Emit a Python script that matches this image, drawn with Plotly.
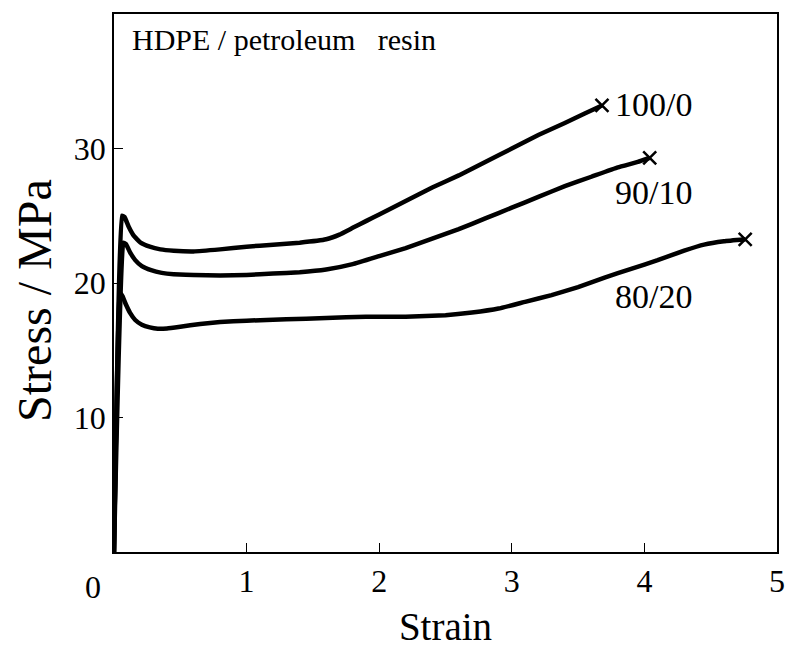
import plotly.graph_objects as go

# ---- data ----
x_100_0 = [0, 0.06, 0.08, 0.11, 0.15, 0.2, 0.27, 0.35, 0.45, 0.6, 0.8, 1.0, 1.2, 1.4, 1.6, 1.7, 1.8, 1.9,
           2.0, 2.2, 2.4, 2.6, 2.8, 3.0, 3.2, 3.4, 3.55, 3.68]
y_100_0 = [0, 25.0, 24.9, 24.2, 23.5, 23.0, 22.7, 22.5, 22.4, 22.35, 22.5, 22.7, 22.85, 23.0, 23.25, 23.6, 24.1, 24.6,
           25.1, 26.1, 27.1, 28.0, 29.0, 30.0, 31.0, 31.9, 32.6, 33.2]

x_90_10 = [0, 0.07, 0.09, 0.12, 0.16, 0.21, 0.28, 0.36, 0.45, 0.6, 0.8, 1.0, 1.2, 1.4, 1.6, 1.8,
           2.0, 2.2, 2.4, 2.6, 2.8, 3.0, 3.2, 3.4, 3.6, 3.8, 3.95, 4.04]
y_90_10 = [0, 23.0, 22.9, 22.3, 21.7, 21.25, 20.95, 20.75, 20.65, 20.6, 20.55, 20.6, 20.7, 20.8, 21.0, 21.4,
           22.0, 22.6, 23.3, 24.0, 24.8, 25.6, 26.4, 27.2, 27.9, 28.6, 29.0, 29.3]

x_80_20 = [0, 0.045, 0.065, 0.09, 0.12, 0.16, 0.21, 0.27, 0.33, 0.4, 0.5, 0.65, 0.8, 1.0, 1.3, 1.6, 1.9,
           2.2, 2.5, 2.7, 2.9, 3.1, 3.3, 3.5, 3.7, 3.9, 4.1, 4.3, 4.45, 4.6, 4.76]
y_80_20 = [0, 19.25, 19.0, 18.4, 17.8, 17.25, 16.9, 16.7, 16.6, 16.62, 16.75, 16.95, 17.1, 17.2, 17.3, 17.4, 17.5,
           17.5, 17.6, 17.8, 18.1, 18.6, 19.1, 19.7, 20.4, 21.05, 21.7, 22.4, 22.85, 23.1, 23.25]

series_names = ["100/0", "90/10", "80/20"]
label_y = [33.3, 26.7, 19.0]
x_ticks = [1, 2, 3, 4, 5]
y_ticks = [10, 20, 30]

FONT = "Liberation Serif, Times New Roman, serif"

# page body has an 8px margin: size the figure so the plot box lands where the reference has it
W, H = 794, 640
ML, MR, MT, MB = 106, 25, 4, 96
PW, PH = W - ML - MR, H - MT - MB


def px(xpix):
    return (xpix - 8 - ML) / PW


def py(ypix):
    return (H - MB - (ypix - 8)) / PH


fig = go.Figure()
for xs, ys, name in zip([x_100_0, x_90_10, x_80_20], [y_100_0, y_90_10, y_80_20], series_names):
    fig.add_trace(go.Scatter(x=xs, y=ys, mode="lines", name=name,
                             line=dict(color="black", width=4.5, shape="spline", smoothing=0.3),
                             showlegend=False))
    fig.add_trace(go.Scatter(x=[xs[-1]], y=[ys[-1]], mode="markers", showlegend=False,
                             marker=dict(symbol="x-thin", size=13, line=dict(color="black", width=2.5))))

for name, ly in zip(series_names, label_y):
    fig.add_annotation(x=3.76, y=ly, text=name, showarrow=False, xanchor="left", yanchor="middle",
                       font=dict(family=FONT, size=34, color="black"))

fig.add_annotation(x=px(130), y=py(38), xref="paper", yref="paper", text="HDPE / petroleum &nbsp; resin",
                   showarrow=False, xanchor="left", yanchor="middle",
                   font=dict(family=FONT, size=30, color="black"))

fig.add_annotation(x=px(93), y=py(587), xref="paper", yref="paper", text="0", showarrow=False,
                   xanchor="center", yanchor="middle", font=dict(family=FONT, size=32, color="black"))

fig.add_annotation(x=px(35), y=py(300), xref="paper", yref="paper", text="Stress / MPa", showarrow=False,
                   textangle=-90, xanchor="center", yanchor="middle",
                   font=dict(family=FONT, size=48, color="black"))

fig.update_layout(
    width=W, height=H,
    margin=dict(l=ML, r=MR, t=MT, b=MB),
    paper_bgcolor="white", plot_bgcolor="white",
    font=dict(family=FONT, color="black"),
    xaxis=dict(range=[0, 5], tickvals=x_ticks, ticks="inside", ticklen=9, tickwidth=1, tickcolor="black",
               showline=True, linecolor="black", linewidth=1.5, mirror=True, showgrid=False, zeroline=False,
               tickfont=dict(family=FONT, size=32, color="black"),
               title=dict(text="Strain", font=dict(family=FONT, size=39, color="black"), standoff=16)),
    yaxis=dict(range=[0, 40], tickvals=y_ticks, ticks="inside", ticklen=9, tickwidth=1, tickcolor="black",
               showline=True, linecolor="black", linewidth=1.5, mirror=True, showgrid=False, zeroline=False,
               tickfont=dict(family=FONT, size=32, color="black")),
)

fig.write_html("out.html")
